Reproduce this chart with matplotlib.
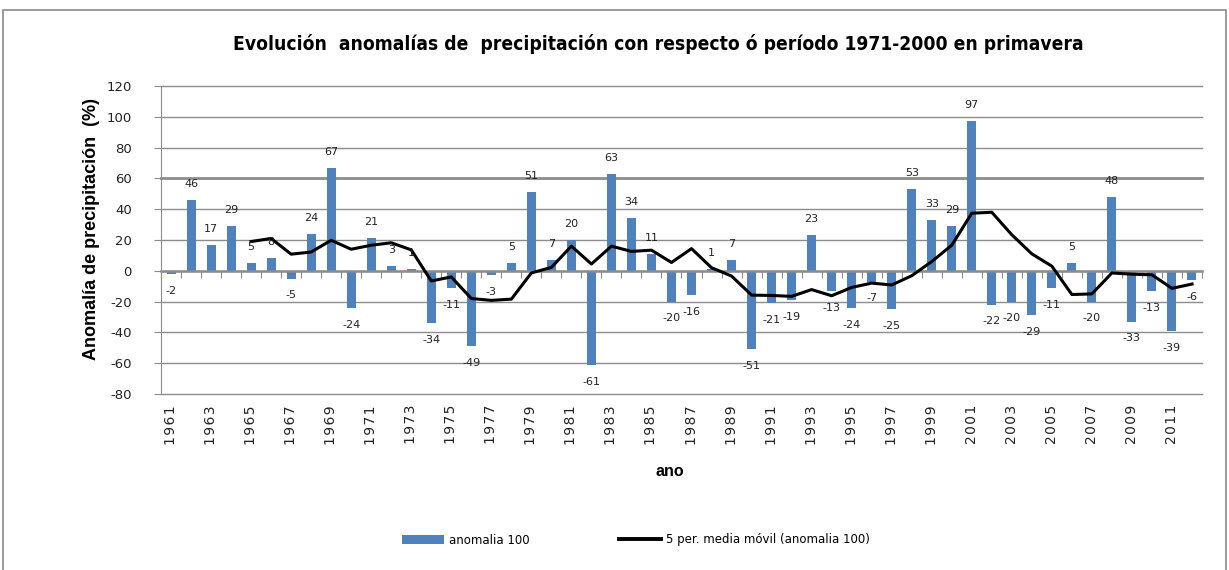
import matplotlib
matplotlib.use('Agg')
import matplotlib.pyplot as plt
import numpy as np
import pandas as pd
from matplotlib.patches import Rectangle, Patch
from matplotlib.lines import Line2D
from matplotlib import font_manager

plt.rcParams['axes.unicode_minus'] = False

# ---- data ----
years = list(range(1961, 2013))
anomalia = [-2, 46, 17, 29, 5, 8, -5, 24, 67, -24,
            21, 3, 1, -34, -11, -49, -3, 5, 51, 7,
            20, -61, 63, 34, 11, -20, -16, 1, 7, -51,
            -21, -19, 23, -13, -24, -7, -25, 53, 33, 29,
            97, -22, -20, -29, -11, 5, -20, 48, -33, -13,
            -39, -6]
yticks = list(range(-80, 121, 20))
xtick_years = years[::2]

title = "Evolución  anomalías de  precipitación con respecto ó período 1971-2000 en primavera"
ylabel = "Anomalía de precipitación  (%)"
xlabel = "ano"
bar_name = "anomalia 100"
line_name = "5 per. media móvil (anomalia 100)"

# 5-period moving average (as Excel's trendline)
media_movil = pd.Series(anomalia, dtype=float).rolling(5).mean()

BLUE = '#4F81BD'
GRID = '#8c8c8c'

names = {f.name for f in font_manager.fontManager.ttflist}
narrow = 'Liberation Sans Narrow' if 'Liberation Sans Narrow' in names else 'DejaVu Sans'

W, H = 1229, 570
fig = plt.figure(figsize=(W / 100, H / 100), dpi=100)
ax = fig.add_axes([161 / W, 1 - 394 / H, (1202 - 161) / W, (394 - 86) / H])

# outer chart border
fig.patches.append(Rectangle((3 / W, -0.02), (1226 - 3) / W, 1.02 - 10 / H,
                             transform=fig.transFigure, fill=False,
                             edgecolor='#8a8a8a', lw=1.2))

ax.bar(years, anomalia, width=0.45, color=BLUE, zorder=2)
ax.plot(years, media_movil, color='black', lw=2.2, zorder=3)

# data labels
for x, v in zip(years, anomalia):
    if v >= 0:
        ax.annotate(str(v), (x, v), xytext=(0, 8), textcoords='offset points',
                    ha='center', va='bottom', fontsize=8, color='#222222', zorder=4)
    else:
        ax.annotate(str(v), (x, v), xytext=(0, -8.5), textcoords='offset points',
                    ha='center', va='top', fontsize=8, color='#222222', zorder=4)

ax.set_xlim(years[0] - 0.5, years[-1] + 0.5)
ax.set_ylim(yticks[0], yticks[-1])
ax.set_yticks(yticks)
ax.yaxis.grid(True, color=GRID, lw=1)
ax.set_axisbelow(True)
for gl, t in zip(ax.get_ygridlines(), yticks):
    gl.set_clip_on(False)
    if t == 60:
        gl.set_linewidth(2.0)
ax.tick_params(axis='y', direction='out', length=5, color=GRID, pad=16,
               labelsize=9.5, labelcolor='#222222')

# category axis drawn at zero with ticks between categories
ax.spines['bottom'].set_position(('data', 0))
ax.spines['bottom'].set_color(GRID)
ax.spines['bottom'].set_linewidth(1.8)
ax.spines['bottom'].set_zorder(2.5)
ax.set_xticks(np.arange(years[0] - 0.5, years[-1] + 1.0, 1.0))
ax.tick_params(axis='x', direction='out', length=5, color=GRID, labelbottom=False)
for s in ('top', 'right'):
    ax.spines[s].set_visible(False)
ax.spines['left'].set_color(GRID)

sec = ax.secondary_xaxis('bottom')
sec.set_xticks(xtick_years, labels=['\u200a'.join(str(y)) for y in xtick_years],
               rotation=90)
sec.spines['bottom'].set_visible(False)
sec.tick_params(length=0, pad=8, labelsize=10, labelcolor='#222222')
for lab in sec.get_xticklabels():
    lab.set_va('top')

t = fig.text(658 / W, 1 - 44 / H, title, ha='center', va='center',
             fontsize=14, fontweight='bold', family=narrow, stretch='condensed')
fig.canvas.draw()
bb = t.get_window_extent()
target = 1085 - 232
if bb.width > 0:
    t.set_fontsize(14 * target / bb.width)

fig.text(92 / W, 1 - 229 / H, ylabel, rotation=90, ha='center', va='center',
         fontsize=13, fontweight='bold', family='Liberation Sans')
fig.text(670 / W, 1 - 472 / H, xlabel, ha='center', va='center',
         fontsize=11.5, fontweight='bold', family='Liberation Sans')

handles = [Patch(facecolor=BLUE, edgecolor='none', label=bar_name),
           Line2D([0], [0], color='black', lw=2.8, label=line_name)]
fig.legend(handles=handles, loc='center', bbox_to_anchor=(636 / W, 1 - 540 / H),
           ncol=2, frameon=False, fontsize=8.5, handlelength=3.6, handleheight=0.8,
           handletextpad=0.45, columnspacing=7.5)

fig.savefig('out.png', dpi=100, facecolor='white')
